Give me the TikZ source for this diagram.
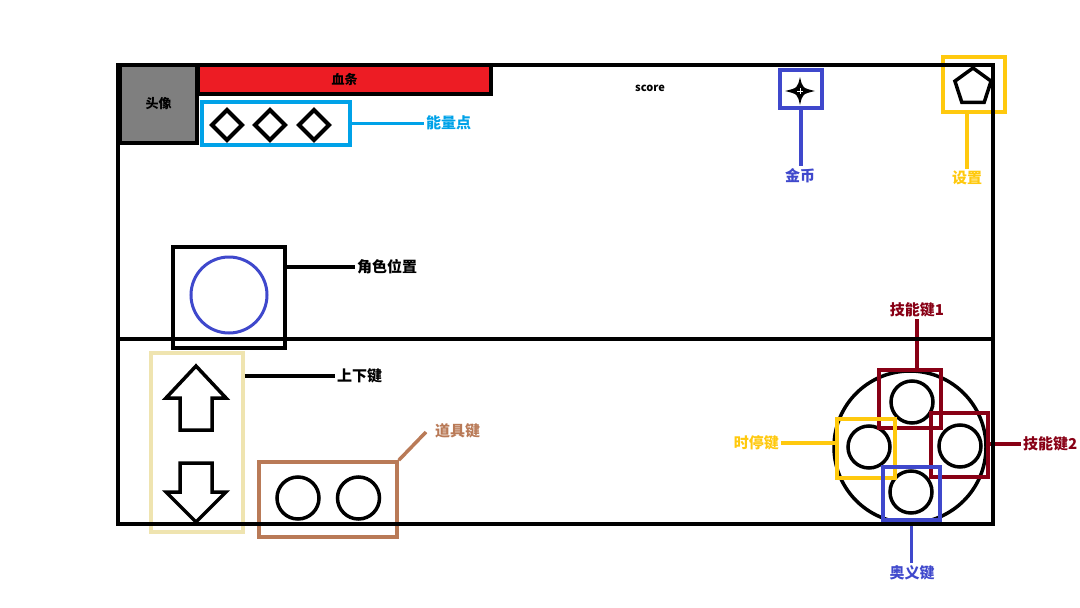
\documentclass[tikz,border=0pt]{standalone}
\usepackage{fontspec}
\newfontfamily\cjk{Noto Sans CJK SC}
\definecolor{ecyan}{HTML}{00A2E8}
\definecolor{eblue}{HTML}{3F48CC}
\definecolor{eyellow}{HTML}{FFC90E}
\definecolor{edred}{HTML}{880015}
\definecolor{ebrown}{HTML}{B97A57}
\definecolor{epale}{HTML}{EFE4B0}
\definecolor{ered}{HTML}{ED1C24}
\definecolor{egray}{HTML}{7F7F7F}
\tikzset{
  bx/.style={draw, line width=3.5pt, inner sep=0pt},
  lab/.style={font=\cjk\bfseries\fontsize{15}{17}\selectfont, inner sep=2pt},
  conn/.style={line width=3.5pt},
  ring/.style={draw, line width=3.5pt, circle, inner sep=0pt},
}
\begin{document}
\begin{tikzpicture}[x=1pt,y=-1pt]
\useasboundingbox (0,0) rectangle (1080,608);
% top-left
\node[bx, fill=egray, minimum width=77pt, minimum height=78pt] (avatar) at (158.5,104) {};
\node[bx, fill=ered, minimum width=293pt, minimum height=29pt] (hp) at (344.5,79.5) {};
\node[bx, draw=ecyan, minimum width=148pt, minimum height=43pt] (energy) at (276,123.5) {};
\foreach \i/\x in {1/227,2/270,3/314}{
  \draw[line width=4pt, line join=miter] (\x,110) -- (\x+15,125) -- (\x,140) -- (\x-15,125) -- cycle;
}
\node[lab, text=ecyan, anchor=west] (nl) at (424,123) {能量点};
\draw[conn, ecyan] (energy.east) -- (energy.east -| nl.west);
% score
\node[font=\cjk\bfseries\fontsize{11}{13}\selectfont, inner sep=0pt] (score) at (650,88) {score};
% coin
\node[bx, draw=eblue, minimum width=42pt, minimum height=38pt] (coin) at (801,89) {};
\fill (800,77) .. controls (802.5,88) .. (815,91) .. controls (802.5,94) .. (800,105) .. controls (797.5,94) .. (785,91) .. controls (797.5,88) .. cycle;
\draw[white, line width=0.8pt] (797,91) -- (803,91) (800,88) -- (800,94);
\node[lab, text=eblue, anchor=north] (gold) at (800,166) {金币};
\draw[conn, eblue] (coin.south) -- (coin.south |- gold.north);
% settings
\node[bx, draw=eyellow, minimum width=62pt, minimum height=55pt] (set) at (974,84.5) {};
\draw[line width=3.5pt, line join=miter] (973,87)+(-90:19) -- +(-162:19) -- +(-234:19) -- +(-306:19) -- +(-378:19) -- cycle;
\node[lab, text=eyellow, anchor=north] (setl) at (967,169) {设置};
\draw[conn, eyellow] (setl.north |- set.south) -- (setl.north);
% character
\node[bx, minimum width=112pt, minimum height=101pt] (char) at (229,297.5) {};
\draw[eblue, line width=3pt] (229,295) circle (38);
\node[lab, anchor=west] (cl) at (355,267) {角色位置};
\draw[conn] (cl.west -| char.east) -- (cl.west);
% up/down
\node[bx, draw=epale, minimum width=92pt, minimum height=179pt] (ud) at (197,442.5) {};
\draw[line width=3.5pt, line join=miter] (196,366) -- (226,398) -- (212,398) -- (212,430) -- (180,430) -- (180,398) -- (166,398) -- cycle;
\draw[line width=3.5pt, line join=miter] (196,522) -- (226,492) -- (212,492) -- (212,463) -- (180,463) -- (180,492) -- (166,492) -- cycle;
\node[lab, anchor=west] (udl) at (335,376) {上下键};
\draw[conn] (udl.west -| ud.east) -- (udl.west);
% items
\node[bx, draw=ebrown, minimum width=138pt, minimum height=75pt] (item) at (328,499.5) {};
\node[ring, minimum size=42pt] (it1) at (298,498) {};
\node[ring, minimum size=42pt] (it2) at (358.5,498) {};
\coordinate (itemtip) at (426,432);
\node[lab, text=ebrown, anchor=west] (il) at (433,431) {道具键};
\draw[conn, ebrown] (item.north east) -- (itemtip);
% joystick
\node[ring, minimum size=152pt] (pad) at (910,447) {};
\node[ring, minimum size=42pt] (c1) at (912,402) {};
\node[ring, minimum size=42pt] (c2) at (960,446) {};
\node[ring, minimum size=42pt] (c3) at (869,447) {};
\node[ring, minimum size=42pt] (c4) at (911,492) {};
\node[bx, draw=edred, minimum width=62pt, minimum height=58pt] (sk1) at (910,399) {};
\node[bx, draw=edred, minimum width=57pt, minimum height=64pt] (sk2) at (959.5,445) {};
\node[bx, draw=eyellow, minimum width=58pt, minimum height=59pt] (ts) at (866,448.5) {};
\node[bx, draw=eblue, minimum width=57pt, minimum height=53pt] (ult) at (911.5,493.5) {};
\node[lab, text=edred, anchor=south] (s1l) at (917,319) {技能键1};
\draw[conn, edred] (sk1.north -| s1l.south) -- (s1l.south);
\node[lab, text=edred, anchor=west] (s2l) at (1021,444) {技能键2};
\draw[conn, edred] (s2l.west -| sk2.east) -- (s2l.west);
\node[lab, text=eyellow, anchor=east] (tsl) at (781,443) {时停键};
\draw[conn, eyellow] (tsl.east) -- (tsl.east -| ts.west);
\node[lab, text=eblue, anchor=north] (ul) at (912,563) {奥义键};
\draw[conn, eblue] (ult.south) -- (ult.south |- ul.north);
% frame
\draw[line width=4pt] (118,65) rectangle (993,524);
\draw[line width=4pt] (118,339) -- (993,339);
% avatar and hp on top of frame
\node[bx, fill=egray, minimum width=77pt, minimum height=78pt, font=\cjk\bfseries\fontsize{13}{15}\selectfont] (avatarTop) at (avatar) {头像};
\node[bx, fill=ered, minimum width=293pt, minimum height=29pt, font=\cjk\bfseries\fontsize{13}{15}\selectfont] (hpTop) at (hp) {血条};
\end{tikzpicture}
\end{document}
